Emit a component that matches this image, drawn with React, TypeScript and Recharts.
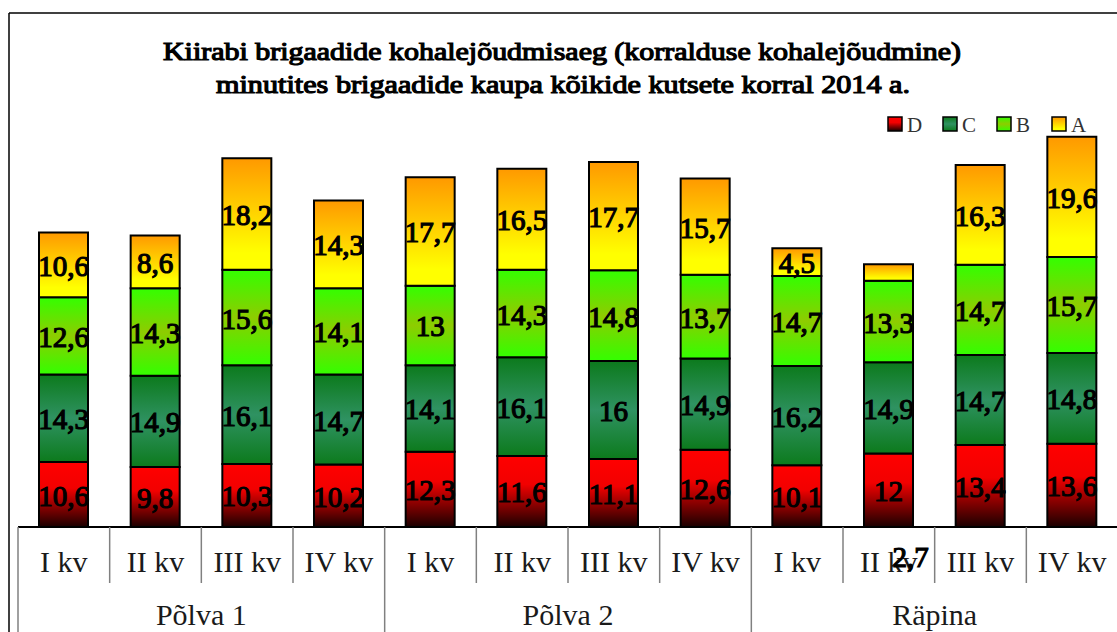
import React from 'react';
import { BarChart, Bar, XAxis, YAxis, LabelList } from 'recharts';

const quarters = ['I kv', 'II kv', 'III kv', 'IV kv', 'I kv', 'II kv', 'III kv', 'IV kv', 'I kv', 'II kv', 'III kv', 'IV kv'];
const groups = ['Põlva 1', 'Põlva 1', 'Põlva 1', 'Põlva 1', 'Põlva 2', 'Põlva 2', 'Põlva 2', 'Põlva 2', 'Räpina', 'Räpina', 'Räpina', 'Räpina'];

const seriesD = [10.6, 9.8, 10.3, 10.2, 12.3, 11.6, 11.1, 12.6, 10.1, 12, 13.4, 13.6];
const seriesC = [14.3, 14.9, 16.1, 14.7, 14.1, 16.1, 16, 14.9, 16.2, 14.9, 14.7, 14.8];
const seriesB = [12.6, 14.3, 15.6, 14.1, 13, 14.3, 14.8, 13.7, 14.7, 13.3, 14.7, 15.7];
const seriesA = [10.6, 8.6, 18.2, 14.3, 17.7, 16.5, 17.7, 15.7, 4.5, 2.7, 16.3, 19.6];

const legendKeys = ['D', 'C', 'B', 'A'];

const data = quarters.map((q, i) => ({
  q,
  grp: groups[i],
  D: seriesD[i],
  C: seriesC[i],
  B: seriesB[i],
  A: seriesA[i],
}));

// layout
const W = 1140;
const H = 660;
const PLOT_LEFT = 18;
const PLOT_RIGHT = 1118;
const PLOT_TOP = 37;
const BASE_Y = 527;
const AXIS1_H = 56;
const AXIS2_H = H - BASE_Y - AXIS1_H;
const BAND = (PLOT_RIGHT - PLOT_LEFT) / quarters.length;
const SERIF = 'Liberation Serif';

// the serif face has no bold cut here, so heavy text gets a thin outline
const heavy = { stroke: '#000', strokeWidth: 1.2 };

const fmt = (v: number) => String(v).replace('.', ',');

const QuarterTick = (props: any) => {
  const { x, payload, index } = props;
  const left = x - BAND / 2;
  const groupEdge = index % 4 === 0;
  return (
    <g>
      <line x1={left} x2={left} y1={BASE_Y} y2={groupEdge ? H : BASE_Y + AXIS1_H} stroke="#808080" strokeWidth={1.5} />
      <text x={x} y={BASE_Y + 45} textAnchor="middle" fontFamily={SERIF} fontSize={30} fill="#1a1a1a">
        {payload.value}
      </text>
    </g>
  );
};

const GroupTick = (props: any) => {
  const { x, payload, index } = props;
  if (index % 4 !== 1) return <g />;
  return (
    <text x={x + BAND / 2} y={625} textAnchor="middle" fontFamily={SERIF} fontSize={30} fill="#1a1a1a">
      {payload.value}
    </text>
  );
};

const SegmentLabel = (props: any) => {
  const x = Number(props.x);
  const y = Number(props.y);
  const width = Number(props.width);
  const height = Number(props.height);
  const cx = x + width / 2;
  // too thin to hold its label: the label drops below the axis
  const thin = height < 24;
  return (
    <text
      x={thin ? cx + 22 : cx}
      y={thin ? BASE_Y + 40 : y + height / 2 + 11}
      textAnchor="middle"
      fontFamily={SERIF}
      fontSize={29}
      fill="#000"
      {...heavy}
    >
      {fmt(props.value)}
    </text>
  );
};

const Gradients = () => (
  <defs>
    <linearGradient id="gD" x1="0" y1="0" x2="0" y2="1">
      <stop offset="0" stopColor="#ff0000" />
      <stop offset="0.4" stopColor="#f20000" />
      <stop offset="1" stopColor="#1a0000" />
    </linearGradient>
    <linearGradient id="gC" x1="0" y1="0" x2="0" y2="1">
      <stop offset="0" stopColor="#0c7a1c" />
      <stop offset="0.5" stopColor="#2f9262" />
      <stop offset="1" stopColor="#0c7a1c" />
    </linearGradient>
    <linearGradient id="gB" x1="0" y1="0" x2="0" y2="1">
      <stop offset="0" stopColor="#33ff00" />
      <stop offset="0.5" stopColor="#8ecc00" />
      <stop offset="1" stopColor="#33ff00" />
    </linearGradient>
    <linearGradient id="gA" x1="0" y1="0" x2="0" y2="1">
      <stop offset="0" stopColor="#ff9900" />
      <stop offset="0.85" stopColor="#ffff00" />
      <stop offset="1" stopColor="#ffff00" />
    </linearGradient>
  </defs>
);

const legendX = [888, 943, 997, 1052];

const Decorations = () => (
  <svg width={1117} height={632} style={{ position: 'absolute', left: 0, top: 0 }}>
    <Gradients />
    <line x1={9} x2={1117} y1={13} y2={13} stroke="#000" strokeWidth={1.5} />
    <line x1={9} x2={9} y1={13} y2={632} stroke="#000" strokeWidth={1.5} />
    <text
      x={562}
      y={60}
      textAnchor="middle"
      fontFamily={SERIF}
      fontSize={26}
      fill="#000"
      textLength={798}
      lengthAdjust="spacingAndGlyphs"
      {...heavy}
    >
      Kiirabi brigaadide kohalejõudmisaeg (korralduse kohalejõudmine)
    </text>
    <text
      x={563}
      y={93}
      textAnchor="middle"
      fontFamily={SERIF}
      fontSize={26}
      fill="#000"
      textLength={694}
      lengthAdjust="spacingAndGlyphs"
      {...heavy}
    >
      minutites brigaadide kaupa kõikide kutsete korral 2014 a.
    </text>
    {legendKeys.map((k, i) => (
      <g key={k}>
        <rect x={legendX[i]} y={117} width={14} height={14} fill={`url(#g${k})`} stroke="#000" strokeWidth={1.5} />
        <text x={legendX[i] + 19} y={132} fontFamily={SERIF} fontSize={21} fill="#333">
          {k}
        </text>
      </g>
    ))}
  </svg>
);

export default function App() {
  return (
    <div style={{ position: 'fixed', left: 0, top: 0, width: 1117, height: 632, overflow: 'hidden', background: '#fff' }}>
      <Decorations />
      <div style={{ position: 'absolute', left: 0, top: 0 }}>
        <BarChart
          width={W}
          height={H}
          data={data}
          margin={{ top: PLOT_TOP, right: W - PLOT_RIGHT, left: PLOT_LEFT, bottom: 0 }}
          barSize={49}
        >
          <Gradients />
          <YAxis hide domain={[0, 80]} />
          <XAxis
            dataKey="q"
            height={AXIS1_H}
            interval={0}
            tickLine={false}
            axisLine={{ stroke: '#000', strokeWidth: 2 }}
            tick={<QuarterTick />}
          />
          <XAxis
            dataKey="grp"
            xAxisId="grp"
            height={AXIS2_H}
            interval={0}
            tickLine={false}
            axisLine={false}
            tick={<GroupTick />}
          />
          {legendKeys.map((k) => (
            <Bar key={k} dataKey={k} stackId="s" fill={`url(#g${k})`} stroke="#000" strokeWidth={2} isAnimationActive={false}>
              <LabelList dataKey={k} content={<SegmentLabel />} />
            </Bar>
          ))}
        </BarChart>
      </div>
    </div>
  );
}
